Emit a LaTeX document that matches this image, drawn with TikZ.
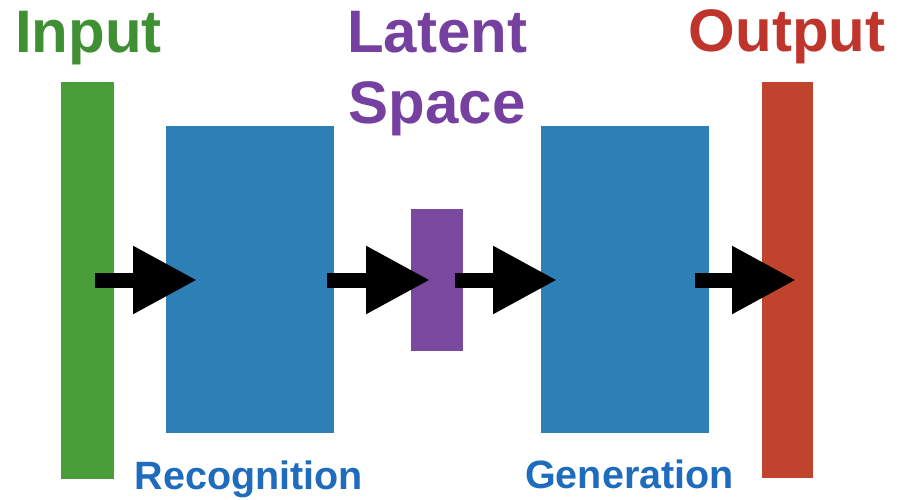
\documentclass[tikz,border=0pt]{standalone}
\usepackage{fontspec}
\setmainfont{Liberation Sans}
\usetikzlibrary{arrows.meta}
\definecolor{cgreen}{HTML}{4A9E3A}
\definecolor{tgreen}{HTML}{3F8F33}
\definecolor{cblue}{HTML}{2E7FB5}
\definecolor{tblue}{HTML}{1F6CBF}
\definecolor{cpurple}{HTML}{7B4AA0}
\definecolor{tpurple}{HTML}{7540A0}
\definecolor{cred}{HTML}{C0432E}
\definecolor{tred}{HTML}{C0352B}
\tikzset{
  block/.style={draw=none, inner sep=0pt, outer sep=0pt, anchor=north west},
  bigtext/.style={font=\bfseries\fontsize{60}{71}\selectfont, inner sep=0pt, anchor=base, align=center},
  smalltext/.style={font=\bfseries\fontsize{39.5}{40}\selectfont, inner sep=0pt, anchor=base, text=tblue},
  arr/.style={line width=15pt, black, -{Triangle[length=64pt,width=64pt]}}
}
\begin{document}
\begin{tikzpicture}[x=1pt,y=-1pt]
\useasboundingbox (0,0) rectangle (905,500);
% blocks
\node[block, fill=cgreen, minimum width=53pt, minimum height=397pt] (in) at (61,82) {};
\node[block, fill=cblue, minimum width=168pt, minimum height=307pt] (rec) at (166,126) {};
\node[block, fill=cpurple, minimum width=52pt, minimum height=142pt] (lat) at (411,209) {};
\node[block, fill=cblue, minimum width=168pt, minimum height=307pt] (gen) at (541,126) {};
\node[block, fill=cred, minimum width=51pt, minimum height=396pt] (out) at (762,82) {};
% labels
\node[bigtext, text=tgreen] (tin) at (88.5,53) {Input};
\node[bigtext, text=tpurple] (tlat) at (437,124) {Latent\\Space};
\node[bigtext, text=tred] (tout) at (787,52) {Output};
\node[smalltext] (trec) at (249,489) {Recognition};
\node[smalltext] (tgen) at (629.5,488) {Generation};
% arrow end points
\coordinate (a1s) at (95,280);
\coordinate (a1e) at (197,280);
\coordinate (a2s) at (327,280);
\coordinate (a2e) at (430,280);
\coordinate (a3s) at (455,280);
\coordinate (a3e) at (557,280);
\coordinate (a4s) at (695,280);
\coordinate (a4e) at (796,280);
\draw[arr] (a1s) -- (a1e);
\draw[arr] (a2s) -- (a2e);
\draw[arr] (a3s) -- (a3e);
\draw[arr] (a4s) -- (a4e);
\end{tikzpicture}
\end{document}
